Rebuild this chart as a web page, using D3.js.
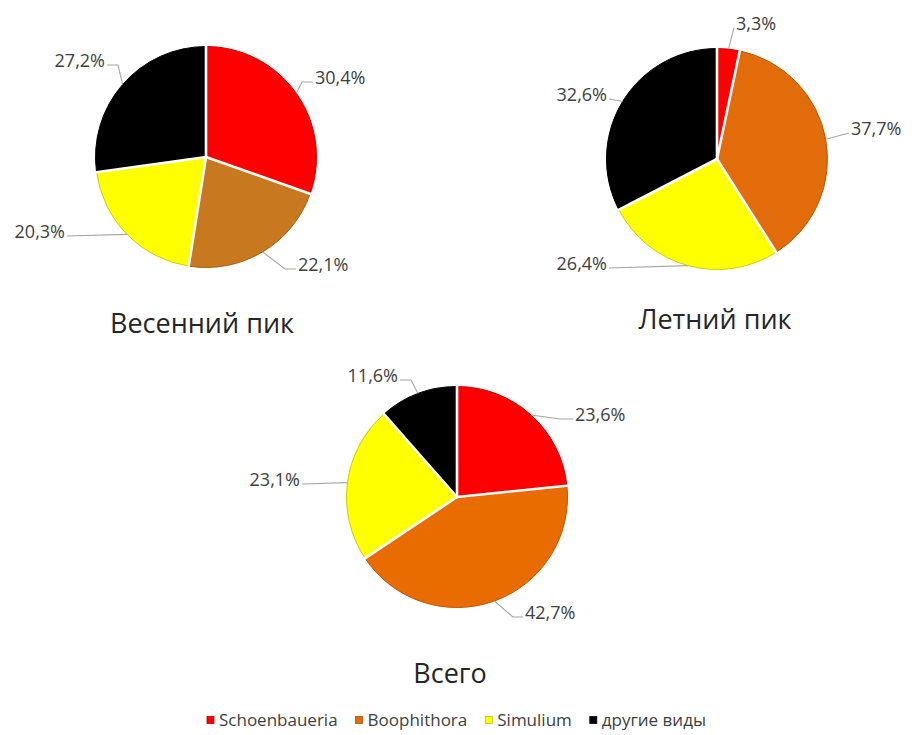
<!DOCTYPE html>
<html>
<head>
<meta charset="utf-8">
<script src="https://cdn.jsdelivr.net/npm/d3@7"></script>
<style>
  html, body { margin: 0; padding: 0; background: #fff; }
  svg { display: block; font-family: "Open Sans", "Noto Sans", sans-serif; }
</style>
</head>
<body>
<svg id="chart" width="918" height="735"></svg>
<script>
// Species shown in every pie and in the legend
const species = ["Schoenbaueria", "Boophithora", "Simulium", "другие виды"];
const pieTitles = ["Весенний пик", "Летний пик", "Всего"];

// Share of each species, percent
const springValues = [30.4, 22.1, 20.3, 27.2];
const summerValues = [3.3, 37.7, 26.4, 32.6];
const totalValues  = [23.6, 42.7, 23.1, 11.6];

// Slice colours per pie (the Boophithora shade differs between pies)
const pieColors = [
  ["#ff0000", "#c8781e", "#ffff00", "#000000"],
  ["#ff0000", "#e36c0a", "#ffff00", "#000000"],
  ["#ff0000", "#e96c00", "#ffff00", "#000000"]
];
const legendColors = ["#ff0000", "#e36c0a", "#ffff00", "#000000"];

// Pie placement and label attachment points (offsets from the pie centre; leg = horizontal leader length)
const pies = [
  { values: springValues, title: pieTitles[0], cx: 206, cy: 157, titleX: 202, titleY: 333,
    labels: [[107, -75, 11], [90, 112, 11], [-139, 79, 0], [-99, -92, 11]] },
  { values: summerValues, title: pieTitles[1], cx: 717, cy: 159, titleX: 715, titleY: 329,
    labels: [[17, -131, 0], [132, -26, 0], [-108, 109, 0], [-108, -60, 0]] },
  { values: totalValues, title: pieTitles[2], cx: 457, cy: 497, titleX: 450, titleY: 683,
    labels: [[116, -78, 13], [66, 120, 10], [-155, -13, 0], [-57, -117, 11]] }
];

const radius = 110.5;
const svg = d3.select("#chart");
const fmt = v => d3.format(".1f")(v).replace(".", ",") + "%";

const pieGen = d3.pie().sort(null).value(d => d);
const arcGen = d3.arc().innerRadius(0).outerRadius(radius);

pies.forEach((p, pi) => {
  const g = svg.append("g").attr("transform", `translate(${p.cx},${p.cy})`);
  const arcs = pieGen(p.values);

  g.selectAll("path.slice")
    .data(arcs)
    .join("path")
    .attr("class", "slice")
    .attr("d", arcGen)
    .attr("fill", (d, i) => pieColors[pi][i])
    .attr("stroke", (d, i) => i === 3 ? "#000" : d3.color(pieColors[pi][i]).darker(0.6))
    .attr("stroke-width", 1);

  // White separators along each slice boundary
  g.selectAll("line.sep")
    .data(arcs)
    .join("line")
    .attr("class", "sep")
    .attr("x1", 0).attr("y1", 0)
    .attr("x2", d => (radius + 2) * Math.sin(d.startAngle))
    .attr("y2", d => -(radius + 2) * Math.cos(d.startAngle))
    .attr("stroke", "#fff")
    .attr("stroke-width", 2.6)
    .attr("stroke-linecap", "round");

  // Leader lines from the slice's mid-arc to its label
  arcs.forEach((a, i) => {
    const mid = (a.startAngle + a.endAngle) / 2;
    const ax = radius * Math.sin(mid), ay = -radius * Math.cos(mid);
    const [lx, ly, leg] = p.labels[i];
    const right = lx > ax;
    const ex = right ? lx - leg : lx + leg;
    g.append("path")
      .attr("d", `M${ax},${ay}L${ex},${ly}L${lx},${ly}`)
      .attr("fill", "none")
      .attr("stroke", "#a6a6a6")
      .attr("stroke-width", 1.1);
    g.append("text")
      .attr("x", right ? lx + 2 : lx - 2)
      .attr("y", ly + 1.5)
      .attr("text-anchor", right ? "start" : "end")
      .attr("font-size", 18)
      .attr("fill", "#404040")
      .text(fmt(p.values[i]));
  });

  svg.append("text")
    .attr("x", p.titleX)
    .attr("y", p.titleY)
    .attr("text-anchor", "middle")
    .attr("font-size", 27)
    .attr("fill", "#262626")
    .text(p.title);
});

// Legend
const legend = svg.append("g");
let lx = 207;
species.forEach((s, i) => {
  legend.append("rect")
    .attr("x", lx).attr("y", 716.5)
    .attr("width", 7).attr("height", 7)
    .attr("fill", legendColors[i])
    .attr("stroke", i === 3 ? "#000" : d3.color(legendColors[i]).darker(0.8))
    .attr("stroke-width", 0.8);
  const t = legend.append("text")
    .attr("x", lx + 12).attr("y", 726)
    .attr("font-size", 17)
    .attr("fill", "#404040")
    .text(s);
  lx += 12 + t.node().getComputedTextLength() + 18;
});
</script>
</body>
</html>
